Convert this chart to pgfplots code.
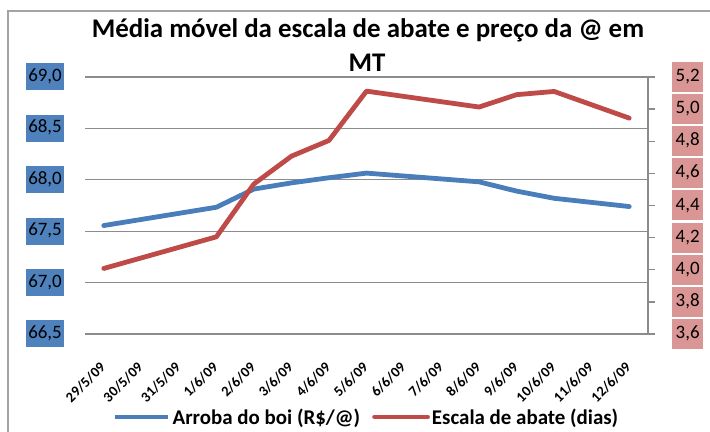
\documentclass[border=0pt]{standalone}
\usepackage{pgfplots}
\pgfplotsset{compat=1.18}
\usepackage{fontspec}
\setmainfont{Carlito}
\definecolor{serblue}{HTML}{4A7EBB}
\definecolor{serred}{HTML}{BE4B48}
\definecolor{lblbg}{HTML}{4F81BD}
\definecolor{rlbbg}{HTML}{D99694}
\definecolor{gridc}{HTML}{8C8C8C}
\begin{document}
\begin{tikzpicture}
\pgfplotsset{
  common/.style={
    scale only axis, width=563bp, height=257bp,
    at={(85bp,98bp)}, anchor=south west,
    xmin=-0.5, xmax=14.5,
    /pgf/number format/assume math mode=true,
    /pgf/number format/.cd, use comma, fixed, fixed zerofill, precision=1, /pgfplots/.cd,
  }
}
\begin{axis}[common,
  ymin=66.5, ymax=69,
  ytick={66.5,67,67.5,68,68.5,69},
  ymajorgrids, grid style={gridc, line width=1.3bp},
  axis line style={draw=none},
  major tick length=0pt,
  xtick={0,...,14},
  xticklabels={29/5/09,30/5/09,31/5/09,1/6/09,2/6/09,3/6/09,4/6/09,5/6/09,6/6/09,7/6/09,8/6/09,9/6/09,10/6/09,11/6/09,12/6/09},
  xticklabel style={xshift=1.5bp, yshift=-28.5bp, rotate=45, anchor=east, font=\bfseries\fontsize{14.5}{17}\selectfont},
  yticklabel style={anchor=east, fill=lblbg, font=\fontsize{19}{22}\selectfont, text height=14bp, text depth=5bp, inner ysep=4bp, inner xsep=2bp, xshift=-21bp},
]
\addplot[serblue, line width=4.8bp, line join=round, line cap=round] coordinates {
(0,67.555) (3,67.733) (4,67.91) (5,67.97) (6,68.02) (7,68.065) (10,67.98) (11,67.89) (12,67.82) (14,67.74)
};
\end{axis}
\begin{axis}[common,
  ymin=3.6, ymax=5.2,
  ytick={3.6,3.8,4.0,4.2,4.4,4.6,4.8,5.0,5.2},
  axis x line=none,
  axis y line*=right,
  y axis line style={gridc, line width=1.3bp},
  ytick style={gridc, line width=1.3bp},
  tick align=outside, major tick length=7bp,
  yticklabel style={anchor=west, fill=rlbbg, font=\fontsize{19}{22}\selectfont, text height=14bp, text depth=5bp, inner ysep=5.5bp, inner xsep=3.5bp, xshift=17bp},
  legend style={at={(0.5,-0.323)}, anchor=center, draw=none, fill=none, legend columns=2,
    font=\bfseries\fontsize{21}{24}\selectfont,
    /tikz/every even column/.append style={column sep=10bp}},
  legend image code/.code={\draw[#1] (0bp,0bp) -- (53bp,0bp);},
]
\addlegendimage{serblue, line width=4.8bp}
\addlegendentry{Arroba do boi (R\$/@)}
\addplot[serred, line width=4.8bp, line join=round, line cap=round] coordinates {
(0,4.008) (3,4.205) (4,4.534) (5,4.707) (6,4.805) (7,5.112) (10,5.013) (11,5.09) (12,5.11) (14,4.944)
};
\addlegendentry{Escala de abate (dias)}
\end{axis}
\node[anchor=base, font=\bfseries\fontsize{27}{32}\selectfont] at (368bp,394bp) {Média móvel da escala de abate e preço da @ em};
\node[anchor=base, font=\bfseries\fontsize{27}{32}\selectfont] at (367bp,360bp) {MT};
\draw[gridc!80, line width=1.5bp] (8bp,-20bp) -- (8bp,421bp) -- (730bp,421bp);
\pgfresetboundingbox
\useasboundingbox (0,0) rectangle (710bp,432bp);
\end{tikzpicture}
\end{document}
